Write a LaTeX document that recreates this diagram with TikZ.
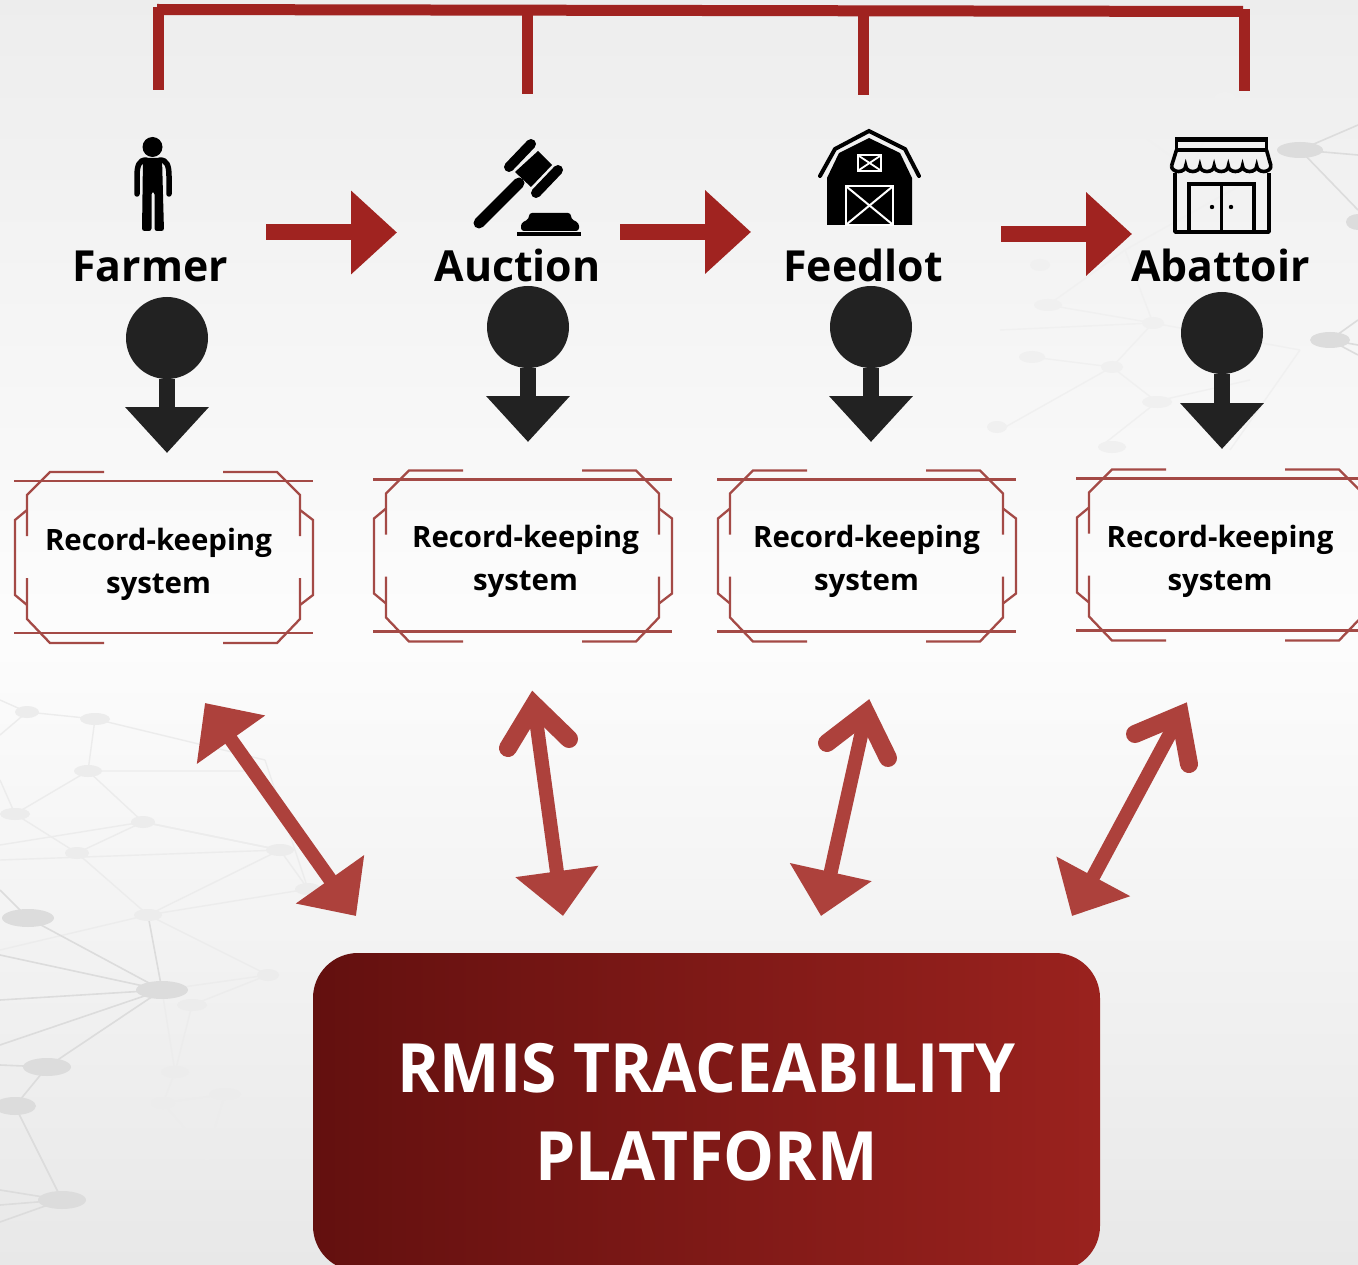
\documentclass[tikz,border=0pt]{standalone}
\usepackage{fontspec}
\setmainfont{Open Sans}
\newfontfamily\rmisfont[FakeStretch=0.943]{Open Sans}
\usetikzlibrary{arrows.meta,calc}
\definecolor{brick}{HTML}{A02320}
\definecolor{rust}{HTML}{AD413C}
\definecolor{pinblack}{HTML}{222222}
\definecolor{frame}{HTML}{A44A46}
\definecolor{netA}{HTML}{DCDCDC}
\definecolor{netB}{HTML}{ECECEC}
\definecolor{netC}{HTML}{F0F0F0}
\definecolor{rmisL}{HTML}{63100F}
\definecolor{rmisR}{HTML}{9A221E}
\tikzset{
  flowarrow/.style={draw=brick,line width=16pt,-{Triangle[length=46pt,width=81pt,fill=brick]}},
  busline/.style={draw=brick,line width=11pt},
  pincircle/.style={circle,fill=pinblack,minimum size=82pt,inner sep=0pt},
  pinarrow/.style={draw=pinblack,line width=16pt,-{Triangle[length=46pt,width=81pt,fill=pinblack]}},
  linkshaft/.style={draw=rust,line width=14pt},
  linktri/.style={linkshaft,-{Triangle[length=45pt,width=81pt,fill=rust]}},
  linkboth/.style={linkshaft,{Triangle[length=45pt,width=81pt,fill=rust]}-{Triangle[length=45pt,width=81pt,fill=rust]}},
  linkopen/.style={draw=rust,line width=18pt,line cap=round,miter limit=10},
  actor/.style={font=\fontsize{42.8}{43}\selectfont\bfseries,inner sep=0pt,anchor=center},
  rectext/.style={font=\fontsize{29.4}{43}\selectfont\bfseries,align=center,inner sep=0pt},
  frameline/.style={draw=frame,line width=2.3pt},
  platform/.style={rounded corners=45pt,minimum width=787pt,minimum height=318pt,left color=rmisL,right color=rmisR,
     text=white,align=center,inner sep=0pt,font=\rmisfont\fontsize{68}{88}\selectfont\bfseries},
  netedgeA/.style={draw=netA,line width=1.6pt},
  netedgeB/.style={draw=netB,line width=1.4pt},
  netedgeC/.style={draw=netC,line width=1.4pt},
}
\newcommand{\recframe}[2]{%
  \begin{scope}[shift={(#1,#2)}]
    \draw[frameline] (14,481) -- (313,481);
    \draw[frameline] (14,633) -- (313,633);
    \draw[frameline] (104,472) -- (50,472) -- (27,495) -- (27,536);
    \draw[frameline] (223,472) -- (277,472) -- (300,495) -- (300,536);
    \draw[frameline] (27,578) -- (27,619) -- (50,643) -- (104,643);
    \draw[frameline] (300,578) -- (300,619) -- (277,643) -- (223,643);
    \draw[frameline] (27,510) -- (15,520) -- (15,595) -- (27,605);
    \draw[frameline] (300,510) -- (313,520) -- (313,595) -- (300,605);
  \end{scope}}
\begin{document}
\begin{tikzpicture}[x=1pt,y=-1pt]
\useasboundingbox (0,0) rectangle (1358,1265);
\clip (0,0) rectangle (1358,1265);
\shade[top color=black!7,bottom color=black!9,middle color=black!1] (0,0) rectangle (1358,1265);
% background network, lower left
\draw[netedgeB] (27,712)--(95,719)--(88,771)--(15,814)--(77,853)--(148,915)--(280,850)--(143,822)--(88,771);
\draw[netedgeB] (0,700)--(27,712)--(0,735) (95,719)--(265,760) (88,771)--(260,771) (143,822)--(77,853) (15,814)--(0,780)
  (0,845)--(143,822)--(280,850) (0,860)--(280,850) (280,850)--(308,889) (265,760)--(308,889) (148,915)--(308,889)
  (148,915)--(268,975)--(192,1005) (162,990)--(268,975) (192,1005)--(175,1072)--(163,1103) (162,990)--(175,1072)
  (163,1103)--(225,1094) (225,1094)--(207,1154)--(163,1103) (148,915)--(0,950);
\draw[netedgeA] (0,890)--(28,918)--(162,990) (0,955)--(162,990) (0,1000)--(162,990) (0,1045)--(162,990)--(47,1067)
  (148,915)--(162,990) (47,1067)--(15,1106) (47,1067)--(0,1065) (15,1106)--(62,1200) (0,1190)--(62,1200) (0,1205)--(62,1200) (0,1222)--(62,1200);
\foreach \x/\y/\r in {27/712/12,95/719/15,88/771/14,15/814/15,77/853/12,143/822/12,148/915/14,280/850/14,308/889/13,192/1005/15,268/975/11,175/1072/14,225/1094/16,163/1103/12,207/1154/12}
  \fill[netB] (\x,\y) ellipse[x radius=\r pt,y radius=6pt];
\foreach \x/\y/\r in {28/918/26,162/990/26,47/1067/24,15/1106/21,62/1200/24}
  \fill[netA] (\x,\y) ellipse[x radius=\r pt,y radius=9pt];
% background network, upper right
\draw[netedgeC] (1088,107)--(1132,128)--(1225,98)--(1190,170) (1132,128)--(1190,170)--(1300,150)
  (1000,330)--(1153,323)--(1112,367)--(1157,402)--(1100,447) (1048,305)--(1153,323)--(1125,250)--(1250,180)
  (1153,323)--(1300,350)  (1032,357)--(1112,367) (1153,402)--(1250,380) (1125,250)--(1048,305) (1112,367)--(1000,430) (1300,350)--(1230,450);
\draw[netedgeA] (1300,150)--(1358,210) (1300,150)--(1358,125) (1300,150)--(1358,155) (1330,340)--(1358,320) (1330,340)--(1358,345) (1330,340)--(1358,355);
\foreach \x/\y/\r in {1088/107/13,1132/128/14,1225/98/11,1048/305/14,1153/323/11,1112/367/11,1157/402/15,1032/357/13,997/427/10,1112/447/14,1040/265/10}
  \fill[netC] (\x,\y) ellipse[x radius=\r pt,y radius=6pt];
\foreach \x/\y/\r in {1300/150/23,1330/340/20,1358/222/12}
  \fill[netA] (\x,\y) ellipse[x radius=\r pt,y radius=8pt];
% top bus
\coordinate (busA) at (158.5,7);
\coordinate (busAb) at (158.5,90);
\coordinate (busBt) at (527.5,10);
\coordinate (busBb) at (527.5,94);
\coordinate (busCt) at (863.5,11);
\coordinate (busCb) at (863.5,95);
\coordinate (busDt) at (1244,9);
\coordinate (busDb) at (1244,91);
\coordinate (busL) at (157,9.5);
\coordinate (busR) at (1243,11.5);
\draw[busline] (busL) -- (busR);
\draw[busline] (busA) -- (busAb);
\draw[busline] (busBt) -- (busBb);
\draw[busline] (busCt) -- (busCb);
\draw[busline] (busDt) -- (busDb);
% actor labels
\node[actor] (farmer) at (150,266.5) {Farmer};
\node[actor] (auction) at (517.5,265.5) {Auction};
\node[actor] (feedlot) at (863,265.5) {Feedlot};
\node[actor] (abattoir) at (1220.5,265.5) {Abattoir};
% flow arrows
\coordinate (f1a) at (266,232.5); \coordinate (f1b) at (397,232.5);
\coordinate (f2a) at (620,232); \coordinate (f2b) at (751,232);
\coordinate (f3a) at (1001,234); \coordinate (f3b) at (1132,234);
\draw[flowarrow] (f1a) -- (f1b);
\draw[flowarrow] (f2a) -- (f2b);
\draw[flowarrow] (f3a) -- (f3b);
% farmer icon
\fill (152.5,147) circle[radius=10pt];
\fill[rounded corners=2.5pt] (143,158) -- (162,158) -- (164,231) -- (154.5,231) -- (154.5,192) -- (151.5,192) -- (151.5,231) -- (142,231) -- cycle;
\draw[line width=5.5pt,line cap=round] (137,194) -- (137,176) .. controls (137,166) and (139,160) .. (146,160);
\draw[line width=5.5pt,line cap=round] (169,194) -- (169,176) .. controls (169,166) and (167,160) .. (160,160);
% gavel icon
\draw[line width=11pt,line cap=round] (479,223) -- (519,183);
\fill (538,151) -- (552,165) -- (531,187) -- (515,172) -- cycle;
\draw[line width=10pt,line cap=round] (531,144) -- (509,167);
\draw[line width=10pt,line cap=round] (558,170) -- (536,193);
\fill[rounded corners=3pt] (521,231) -- (521,223) -- (529,219) -- (529,213) -- (571,213) -- (571,219) -- (579,223) -- (579,231) -- cycle;
\fill (517,232.5) rectangle (581,236);
% barn icon
\draw[line width=4pt,line cap=round,miter limit=4] (820,176) -- (835,149) -- (869,131) -- (905,149) -- (919,176);
\fill (827,225) -- (827,178) -- (839,153) -- (869,138) -- (900,153) -- (912,178) -- (912,225) -- cycle;
\draw[white,line width=2pt] (846,225) -- (846,186) -- (893,186) -- (893,225) -- cycle;
\draw[white,line width=2pt] (847,187) -- (892,224) (892,187) -- (847,224);
\draw[white,line width=2pt] (858,155) rectangle (881,171);
\draw[white,line width=1.8pt] (859,156) -- (880,170) (880,156) -- (859,170);
% shop icon
\draw[line width=3.6pt] (1176.5,139) -- (1266.5,139) -- (1266.5,150) -- (1176.5,150) -- cycle;
\fill (1175,137) rectangle (1268,142);
\draw[line width=3.6pt,line join=round] (1176.5,150) -- (1171.5,166) (1266.5,150) -- (1271,166);
\draw[line width=3.6pt] (1171.5,166) \foreach \i in {1,...,7}{ arc[start angle=180,end angle=360,x radius=7.1pt,y radius=5.5pt] };
\draw[line width=3.8pt,line join=round] (1175,173) -- (1175,232) -- (1269,232) -- (1269,173);
\draw[line width=3.6pt] (1189,232) -- (1189,184) -- (1254,184) -- (1254,232) (1221.5,184) -- (1221.5,232);
\fill (1212,207) circle[radius=2.2pt] (1231,207) circle[radius=2.2pt];
% record-keeping pins
\node[pincircle] (pinA) at (167,338) {};
\node[pincircle] (pinB) at (528,327) {};
\node[pincircle] (pinC) at (871,327) {};
\node[pincircle] (pinD) at (1222,333) {};
\coordinate (pinAt) at (167,453);
\coordinate (pinBt) at (528,442);
\coordinate (pinCt) at (871,442);
\coordinate (pinDt) at (1222,449);
\draw[pinarrow] (pinA) -- (pinAt);
\draw[pinarrow] (pinB) -- (pinBt);
\draw[pinarrow] (pinC) -- (pinCt);
\draw[pinarrow] (pinD) -- (pinDt);
% record frames
\recframe{0}{0}
\recframe{359}{-1.5}
\recframe{703}{-1.5}
\recframe{1062}{-2.5}
\node[rectext] (recA) at (158.5,564.5) {Record-keeping\\system};
\node[rectext] (recB) at (525.5,561.5) {Record-keeping\\system};
\node[rectext] (recC) at (866.5,561.5) {Record-keeping\\system};
\node[rectext] (recD) at (1220,561.5) {Record-keeping\\system};
% platform
\node[platform] (rmis) at (706.5,1112) {RMIS TRACEABILITY\\PLATFORM};
% double links
\coordinate (l1a) at (205,703); \coordinate (l1b) at (356,916);
\coordinate (l2a) at (534,705); \coordinate (l2b) at (563,916);
\coordinate (l2L) at (508,748); \coordinate (l2R) at (569,739);
\coordinate (l3a) at (866,713); \coordinate (l3b) at (821,916);
\coordinate (l3L) at (827,743); \coordinate (l3R) at (888,758);
\coordinate (l4a) at (1180,715); \coordinate (l4b) at (1072,916);
\coordinate (l4L) at (1135,734); \coordinate (l4R) at (1189,764);
\draw[linkboth] (l1a) -- (l1b);
\draw[linktri] (l2a) -- (l2b);
\draw[linkopen] (l2L) -- (l2a) -- (l2R);
\draw[linktri] (l3a) -- (l3b);
\draw[linkopen] (l3L) -- (l3a) -- (l3R);
\draw[linktri] (l4a) -- (l4b);
\draw[linkopen] (l4L) -- (l4a) -- (l4R);
\end{tikzpicture}
\end{document}
